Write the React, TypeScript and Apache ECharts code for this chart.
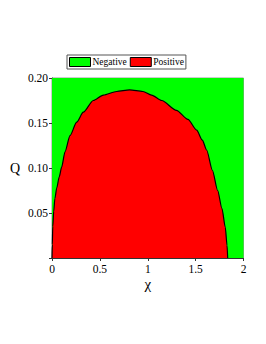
import React, { useEffect, useRef } from "react";
import * as echarts from "echarts";

const chiValues = [0, 0.003, 0.008, 0.018, 0.03, 0.05, 0.075, 0.101, 0.136, 0.188, 0.258, 0.327, 0.431, 0.536, 0.675, 0.81, 0.95, 1.04, 1.146, 1.3, 1.42, 1.511, 1.57, 1.615, 1.675, 1.73, 1.775, 1.81, 1.828, 1.835];
const qValues = [0, 0.015, 0.035, 0.052, 0.066, 0.078, 0.09, 0.101, 0.118, 0.136, 0.151, 0.162, 0.175, 0.181, 0.185, 0.1868, 0.185, 0.181, 0.175, 0.164, 0.154, 0.142, 0.131, 0.12, 0.0975, 0.075, 0.055, 0.034, 0.014, 0];
const negativeChi = [0, 2];
const negativeQ = [0.2, 0.2];
const xTicks = [0, 0.5, 1, 1.5, 2];
const yTicks = [0.05, 0.1, 0.15, 0.2];
const legendNames = ["Negative", "Positive"];

const FONT = "'Liberation Serif', 'Times New Roman', serif";

export default function App() {
  const ref = useRef<HTMLDivElement>(null);
  useEffect(() => {
    document.body.style.margin = "0";
    const chart = echarts.init(ref.current!, null, { renderer: "svg" });
    const positive = chiValues.map((c, i) => [c, qValues[i]]);
    const negative = negativeChi.map((c, i) => [c, negativeQ[i]]);
    chart.setOption({
      animation: false,
      backgroundColor: "#fff",
      legend: {
        left: 67,
        top: 55,
        orient: "horizontal",
        padding: [2, 2, 2, 2],
        itemGap: 3,
        itemWidth: 21,
        itemHeight: 9,
        borderColor: "#555",
        borderWidth: 1,
        textStyle: { fontFamily: FONT, fontSize: 9.5, color: "#000", padding: [0, 0, 0, -3] },
        data: [
          { name: legendNames[0], icon: "rect", itemStyle: { color: "#00ff00", borderColor: "#000", borderWidth: 1 } },
          { name: legendNames[1], icon: "rect", itemStyle: { color: "#ff0000", borderColor: "#000", borderWidth: 1 } },
        ],
      },
      grid: {
        left: 52,
        right: 22.5,
        top: 78,
        bottom: 86,
        show: true,
        borderColor: "#999",
        borderWidth: 1,
        backgroundColor: "#00ff00",
      },
      xAxis: {
        type: "value",
        min: 0,
        max: 2,
        interval: 0.5,
        name: "χ",
        nameLocation: "middle",
        nameGap: 18,
        nameMoveOverlap: false,
        nameTextStyle: { fontFamily: FONT, fontSize: 15, color: "#000" },
        axisLine: { show: true, lineStyle: { color: "#333", width: 1 } },
        axisTick: { show: true, length: 3, lineStyle: { color: "#333" } },
        splitLine: { show: false },
        axisLabel: {
          fontFamily: FONT,
          fontSize: 11.5,
          color: "#000",
          margin: 5,
          formatter: (v: number) => (xTicks.includes(v) ? String(v) : ""),
        },
      },
      yAxis: {
        type: "value",
        min: 0,
        max: 0.2,
        interval: 0.05,
        name: "Q",
        nameLocation: "middle",
        nameRotate: 0,
        nameGap: 32,
        nameMoveOverlap: false,
        nameTextStyle: { fontFamily: FONT, fontSize: 14, color: "#000" },
        axisLine: { show: true, lineStyle: { color: "#333", width: 1 } },
        axisTick: { show: true, length: 3, lineStyle: { color: "#333" } },
        splitLine: { show: false },
        axisLabel: {
          fontFamily: FONT,
          fontSize: 11.5,
          color: "#000",
          margin: 4,
          formatter: (v: number) => (yTicks.some((t) => Math.abs(t - v) < 1e-9) ? v.toFixed(2) : ""),
        },
      },
      series: [
        {
          name: legendNames[0],
          type: "line",
          data: negative,
          symbol: "none",
          color: "#00ff00",
          lineStyle: { width: 0 },
          areaStyle: { color: "#00ff00", opacity: 1, origin: "start" },
          silent: true,
          z: 1,
        },
        {
          name: legendNames[1],
          type: "line",
          data: positive,
          symbol: "none",
          smooth: 0.25,
          smoothMonotone: "x",
          color: "#ff0000",
          lineStyle: { width: 1.2, color: "#000" },
          areaStyle: { color: "#ff0000", opacity: 1, origin: "start" },
          silent: true,
          z: 2,
        },
      ],
    });
    return () => chart.dispose();
  }, []);
  return <div ref={ref} style={{ width: 266, height: 344 }} />;
}
